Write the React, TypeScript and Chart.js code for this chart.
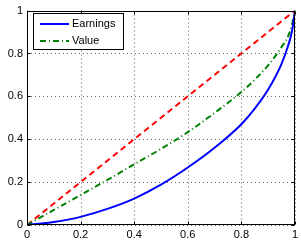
import React, { useEffect, useRef } from "react";
import { Chart, registerables } from "chart.js";

Chart.register(...registerables);

const xValues = [0, 0.1, 0.2, 0.3, 0.4, 0.5, 0.6, 0.7, 0.8, 0.85, 0.9, 0.95, 0.975, 0.99, 1];
const earnings = [0, 0.014, 0.038, 0.075, 0.123, 0.188, 0.268, 0.36, 0.47, 0.543, 0.632, 0.752, 0.838, 0.91, 1];
const value = [0, 0.07, 0.14, 0.21, 0.283, 0.355, 0.433, 0.523, 0.62, 0.678, 0.745, 0.83, 0.882, 0.94, 1];
const equalityX = [0, 1];
const equality = [0, 1];
const seriesLabels = ["Earnings", "Value"];
const tickValues = [0, 0.2, 0.4, 0.6, 0.8, 1];

const FONT = "'Liberation Sans', Arial, sans-serif";

const framePlugin = {
  id: "frame",
  beforeDatasetsDraw(chart: any) {
    const { ctx, chartArea: a, scales } = chart;
    ctx.save();
    ctx.strokeStyle = "#666";
    ctx.lineWidth = 1;
    ctx.setLineDash([1, 3]);
    for (const t of tickValues) {
      const x = Math.round(scales.x.getPixelForValue(t)) + 0.5;
      ctx.beginPath();
      ctx.moveTo(x, a.top);
      ctx.lineTo(x, a.bottom);
      ctx.stroke();
      const y = Math.round(scales.y.getPixelForValue(t)) + 0.5;
      ctx.beginPath();
      ctx.moveTo(a.left, y);
      ctx.lineTo(a.right, y);
      ctx.stroke();
    }
    ctx.restore();
  },
  afterDraw(chart: any) {
    const { ctx, chartArea: a, scales } = chart;
    ctx.save();
    ctx.strokeStyle = "#000";
    ctx.lineWidth = 1;
    ctx.setLineDash([]);
    const L = Math.round(a.left) + 0.5;
    const R = Math.round(a.right) - 0.5;
    const T = Math.round(a.top) + 0.5;
    const B = Math.round(a.bottom) - 0.5;
    ctx.strokeRect(L, T, R - L, B - T);
    for (const t of tickValues) {
      const x = Math.round(scales.x.getPixelForValue(t)) + 0.5;
      ctx.beginPath();
      ctx.moveTo(x, B);
      ctx.lineTo(x, B - 3);
      ctx.moveTo(x, T);
      ctx.lineTo(x, T + 3);
      ctx.stroke();
      const y = Math.round(scales.y.getPixelForValue(t)) + 0.5;
      ctx.beginPath();
      ctx.moveTo(L, y);
      ctx.lineTo(L + 3, y);
      ctx.moveTo(R, y);
      ctx.lineTo(R - 3, y);
      ctx.stroke();
    }
    // legend
    const bx = 33.5, by = 13.5, bw = 90, bh = 36;
    ctx.fillStyle = "#fff";
    ctx.fillRect(bx, by, bw, bh);
    ctx.strokeStyle = "#000";
    ctx.strokeRect(bx, by, bw, bh);
    ctx.font = `11px ${FONT}`;
    ctx.textBaseline = "middle";
    const rows = [24, 41];
    for (let i = 0; i < 2; i++) {
      const ds = chart.data.datasets[i];
      ctx.strokeStyle = ds.borderColor;
      ctx.lineWidth = 2;
      ctx.setLineDash(ds.borderDash || []);
      ctx.beginPath();
      ctx.moveTo(40, rows[i]);
      ctx.lineTo(69, rows[i]);
      ctx.stroke();
      ctx.setLineDash([]);
      ctx.fillStyle = "#000";
      ctx.fillText(ds.label, 72, rows[i]);
    }
    ctx.restore();
  },
};

export default function App() {
  const ref = useRef<HTMLCanvasElement | null>(null);
  useEffect(() => {
    if (!ref.current) return;
    const chart = new Chart(ref.current, {
      type: "line",
      data: {
        datasets: [
          {
            label: seriesLabels[0],
            data: xValues.map((x, i) => ({ x, y: earnings[i] })),
            borderColor: "#0000ff",
            borderWidth: 2,
            pointRadius: 0,
            cubicInterpolationMode: "monotone",
            fill: false,
          },
          {
            label: seriesLabels[1],
            data: xValues.map((x, i) => ({ x, y: value[i] })),
            borderColor: "#008000",
            borderWidth: 2,
            borderDash: [6, 3, 1, 3],
            pointRadius: 0,
            cubicInterpolationMode: "monotone",
            fill: false,
          },
          {
            label: "",
            data: equalityX.map((x, i) => ({ x, y: equality[i] })),
            borderColor: "#ff0000",
            borderWidth: 2,
            borderDash: [6, 4],
            pointRadius: 0,
            fill: false,
          },
        ],
      } as any,
      options: {
        animation: false,
        responsive: false,
        layout: { padding: { top: 9, right: 1, left: 0, bottom: 0 } },
        plugins: { legend: { display: false }, tooltip: { enabled: false }, title: { display: false } },
        scales: {
          x: {
            type: "linear",
            min: 0,
            max: 1,
            afterFit: (s: any) => { s.height = 15; },
            afterBuildTicks: (s: any) => { s.ticks = tickValues.map((v) => ({ value: v })); },
            grid: { display: false, drawTicks: false },
            border: { display: false },
            ticks: {
              padding: 3,
              color: "#000",
              font: { family: FONT, size: 11 },
              maxRotation: 0,
              callback: (v: any) => String(Math.round(Number(v) * 10) / 10),
            },
          },
          y: {
            type: "linear",
            min: 0,
            max: 1,
            afterFit: (s: any) => { s.width = 27; },
            afterBuildTicks: (s: any) => { s.ticks = tickValues.map((v) => ({ value: v })); },
            grid: { display: false, drawTicks: false },
            border: { display: false },
            ticks: {
              padding: 4,
              color: "#000",
              font: { family: FONT, size: 11 },
              callback: (v: any) => String(Math.round(Number(v) * 10) / 10),
            },
          },
        },
      } as any,
      plugins: [framePlugin],
    });
    return () => chart.destroy();
  }, []);
  return (
    <div style={{ position: "fixed", left: 0, top: 0, width: 301, height: 240, background: "#fff" }}>
      <canvas ref={ref} width={301} height={240} style={{ width: 301, height: 240, display: "block" }} />
    </div>
  );
}
